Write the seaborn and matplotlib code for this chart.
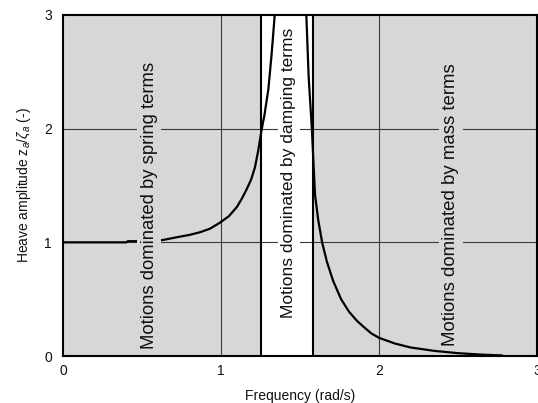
import numpy as np
import pandas as pd
import matplotlib
matplotlib.use("Agg")
import matplotlib.pyplot as plt
import seaborn as sns

# ---- data ----
left_freq = [0.0, 0.20, 0.40, 0.41, 0.47, 0.63, 0.74, 0.80, 0.87, 0.93, 0.99,
             1.05, 1.10, 1.13, 1.16, 1.19, 1.215, 1.236, 1.257, 1.275, 1.30,
             1.32, 1.34, 1.345]
left_amp = [1.0, 1.0, 1.0, 1.01, 1.01, 1.02, 1.05, 1.065, 1.09, 1.12, 1.17,
            1.23, 1.31, 1.38, 1.46, 1.55, 1.66, 1.81, 1.99, 2.12, 2.35,
            2.65, 3.0, 3.1]
right_freq = [1.536, 1.540, 1.555, 1.575, 1.595, 1.615, 1.64, 1.67, 1.71, 1.76,
              1.81, 1.86, 1.90, 1.95, 2.00, 2.10, 2.20, 2.35, 2.50, 2.65, 2.78]
right_amp = [3.1, 3.0, 2.45, 2.0, 1.42, 1.2, 1.0, 0.83, 0.66, 0.50,
             0.39, 0.31, 0.26, 0.20, 0.16, 0.11, 0.075, 0.045, 0.025, 0.012, 0.005]

band_edges = [1.25, 1.58]
x_ticks = [0, 1, 2, 3]
y_ticks = [0, 1, 2, 3]
region_labels = ["Motions dominated by spring terms",
                 "Motions dominated by damping terms",
                 "Motions dominated by mass terms"]
region_x = [0.545, 1.43, 2.455]
region_y = [0.06, 0.33, 0.09]
region_size = [13.3, 12.5, 13.4]

df = pd.DataFrame({
    "freq": left_freq + right_freq,
    "amp": left_amp + right_amp,
    "branch": ["left"] * len(left_freq) + ["right"] * len(right_freq),
})

sns.set_theme(style="white")
plt.rcParams["font.family"] = ["Liberation Sans", "DejaVu Sans"]
plt.rcParams["mathtext.fontset"] = "custom"
plt.rcParams["mathtext.rm"] = "Liberation Sans"
plt.rcParams["mathtext.it"] = "Liberation Sans:italic"

gray = "#d7d7d7"
fig = plt.figure(figsize=(5.38, 4.03), dpi=100)
ax = fig.add_axes([63 / 538, 1 - 356 / 403, 474 / 538, 341 / 403])

# shaded regions
ax.axvspan(0, band_edges[0], color=gray, zorder=0, lw=0)
ax.axvspan(band_edges[1], 3, color=gray, zorder=0, lw=0)
for xe in band_edges:
    ax.axvline(xe, color="black", lw=1.5, zorder=3)

# grid
for g in [1, 2]:
    ax.axvline(g, color="#3a3a3a", lw=0.8, zorder=1)
    ax.axhline(g, color="#3a3a3a", lw=0.8, zorder=1)

sns.lineplot(data=df, x="freq", y="amp", units="branch", estimator=None,
             sort=False, color="black", lw=1.6, ax=ax, zorder=4)

for lab, xx, yy, fs, fc in zip(region_labels, region_x, region_y, region_size,
                               [gray, "white", gray]):
    ax.text(xx, yy, lab, rotation=90, ha="center", va="bottom", fontsize=fs,
            color="#111111", zorder=5,
            bbox=dict(boxstyle="square,pad=0.2", fc=fc, ec="none"))

ax.set_xlim(0, 3)
ax.set_ylim(0, 3)
ax.set_xticks(x_ticks)
ax.set_yticks(y_ticks)
ax.tick_params(length=0, labelsize=10, colors="#111111")
ax.tick_params(axis="x", pad=6)
ax.tick_params(axis="y", pad=8)
for sp in ax.spines.values():
    sp.set_visible(True)
    sp.set_color("black")
    sp.set_linewidth(1.5)
    sp.set_zorder(6)

ax.set_xlabel("Frequency (rad/s)", fontsize=10, labelpad=8, color="#111111")
ax.set_ylabel(r"Heave amplitude z$_a$/$\zeta_a$ (-)", fontsize=10, labelpad=8,
              color="#111111")

fig.savefig("out.png", dpi=100)
